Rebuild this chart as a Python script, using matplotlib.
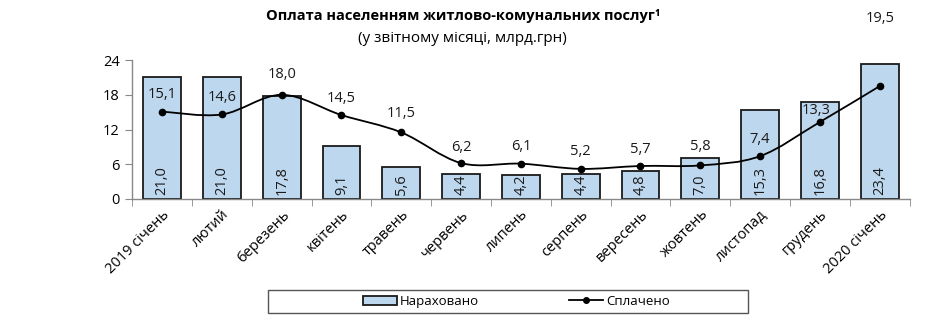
import matplotlib
matplotlib.use('Agg')
import matplotlib.pyplot as plt
from matplotlib.path import Path
from matplotlib.patches import PathPatch, Patch, Rectangle
from matplotlib.lines import Line2D
import numpy as np

plt.rcParams['font.family'] = ['Open Sans', 'DejaVu Sans']

months = ['2019 січень', 'лютий', 'березень', 'квітень', 'травень', 'червень',
          'липень', 'серпень', 'вересень', 'жовтень', 'листопад', 'грудень',
          '2020 січень']
accrued = [21.0, 21.0, 17.8, 9.1, 5.6, 4.4, 4.2, 4.4, 4.8, 7.0, 15.3, 16.8, 23.4]
paid = [15.1, 14.6, 18.0, 14.5, 11.5, 6.2, 6.1, 5.2, 5.7, 5.8, 7.4, 13.3, 19.5]
yticks = [0, 6, 12, 18, 24]

# label offsets above the line points (pixels)
paid_off = [(0, 17), (0, 17), (0, 20), (0, 17), (0, 19), (0, 16), (0, 17),
            (0, 17), (0, 16), (0, 19), (0, 17), (-4, 11), (0, 68)]

fig = plt.figure(figsize=(9.31, 3.23), dpi=100)
ax = fig.add_axes([0.142, 0.384, 0.835, 0.430])

x = np.arange(len(months))
ax.bar(x, accrued, width=0.63, color='#bdd7ee', edgecolor='#1a1a1a',
       linewidth=1.3, zorder=2)
for xi, v in zip(x, accrued):
    ax.text(xi, 0.6, f'{v:.1f}'.replace('.', ','), rotation=90, ha='center',
            va='bottom', fontsize=10.5, color='#1a1a1a', zorder=4)

# smoothed line (Catmull-Rom converted to cubic Bezier segments)
pts = np.column_stack([x, paid]).astype(float)
verts = [pts[0]]
codes = [Path.MOVETO]
for i in range(len(pts) - 1):
    p0 = pts[i - 1] if i > 0 else pts[i]
    p1 = pts[i]
    p2 = pts[i + 1]
    p3 = pts[i + 2] if i + 2 < len(pts) else pts[i + 1]
    c1 = p1 + (p2 - p0) / 6.0
    c2 = p2 - (p3 - p1) / 6.0
    verts += [c1, c2, p2]
    codes += [Path.CURVE4] * 3
ax.add_patch(PathPatch(Path(verts, codes), facecolor='none',
                       edgecolor='black', linewidth=1.3, zorder=3))
ax.plot(x, paid, linestyle='none', marker='o', markersize=4.5, color='black',
        zorder=4)
for xi, v, off in zip(x, paid, paid_off):
    ax.annotate(f'{v:.1f}'.replace('.', ','), (xi, v), xytext=off,
                textcoords='offset pixels', ha='center', va='center',
                fontsize=10.5, color='#1a1a1a', zorder=5)

ax.set_xlim(-0.5, len(months) - 0.5)
ax.set_ylim(0, 24)
ax.set_yticks(yticks)
ax.set_yticklabels([str(t) for t in yticks], fontsize=10.5)
ax.set_xticks(x)
ax.set_xticklabels(months, rotation=45, ha='right', rotation_mode='anchor',
                   fontsize=10.5)
ax.set_xticks(np.arange(-0.5, len(months)), minor=True)
ax.tick_params(axis='x', which='major', length=0, pad=6)
ax.tick_params(axis='x', which='minor', length=5, color='#888888')
ax.tick_params(axis='y', length=5, color='#888888', pad=4)
for s in ['top', 'right']:
    ax.spines[s].set_visible(False)
for s in ['left', 'bottom']:
    ax.spines[s].set_color('#888888')
    ax.spines[s].set_linewidth(1.0)

fig.text(0.497, 0.952, 'Оплата населенням житлово-комунальних послуг¹',
         ha='center', va='center', fontsize=10.5, fontweight='bold')
fig.text(0.497, 0.882, '(у звітному місяці, млрд.грн)', ha='center',
         va='center', fontsize=11)

# legend box
fig.patches.append(Rectangle((0.288, 0.031), 0.515, 0.071,
                             transform=fig.transFigure, facecolor='white',
                             edgecolor='#555555', linewidth=1.0))
handles = [Patch(facecolor='#bdd7ee', edgecolor='#1a1a1a', linewidth=1.3),
           Line2D([], [], color='black', marker='o', markersize=4, linewidth=1.3)]
fig.legend(handles, ['Нараховано', 'Сплачено'], ncol=2,
           loc='center left', bbox_to_anchor=(0.39, 0.067), fontsize=9.5,
           frameon=False, columnspacing=6.8, handlelength=2.6,
           handletextpad=0.2, borderpad=0, borderaxespad=0)

fig.savefig('out.png', dpi=100)
